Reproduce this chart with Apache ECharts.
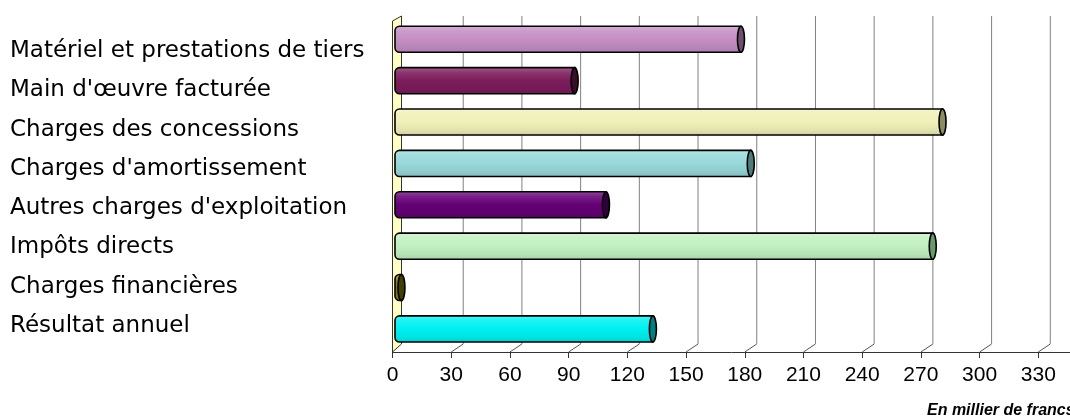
<!DOCTYPE html>
<html>
<head>
<meta charset="utf-8">
<title>Charges</title>
<script src="https://cdn.jsdelivr.net/npm/echarts@6/dist/echarts.min.js"></script>
<style>
html, body { margin: 0; padding: 0; background: #fff; }
#main { width: 1070px; height: 418px; }
</style>
</head>
<body>
<div id="main"></div>
<script>
var categories = ['Matériel et prestations de tiers', "Main d'œuvre facturée", 'Charges des concessions',
	"Charges d'amortissement", "Autres charges d'exploitation", 'Impôts directs',
	'Charges financières', 'Résultat annuel'];
var values = [175, 90, 278, 180, 106, 273, 1.5, 130];
var barColors = ['#C48EC4', '#7C1C5C', '#F0F0B8', '#98D8DA', '#640074', '#C2F0C2', '#808000', '#00F0F0'];
var capColors = ['#6E4E6E', '#3C0C2C', '#8C8C60', '#4E7C7C', '#30003A', '#6A9A6A', '#404000', '#008080'];
var axisMin = 0;
var axisMax = 360;
var axisStep = 30;
var tickValues = [0, 30, 60, 90, 120, 150, 180, 210, 240, 270, 300, 330, 360];
var unitText = 'En millier de francs';

// profondeur de l'effet 3D
var depthX = 12;
var depthY = 8;

function mix(hex, toWhite, t) {
	var r = parseInt(hex.substr(1, 2), 16);
	var g = parseInt(hex.substr(3, 2), 16);
	var b = parseInt(hex.substr(5, 2), 16);
	var tg = toWhite ? 255 : 0;
	r = Math.round(r + (tg - r) * t);
	g = Math.round(g + (tg - g) * t);
	b = Math.round(b + (tg - b) * t);
	return 'rgb(' + r + ',' + g + ',' + b + ')';
}

// cylindre horizontal
function renderBar(params, api) {
	var i = params.dataIndex;
	var cat = api.value(1);
	var p0 = api.coord([0, cat]);
	var p1 = api.coord([api.value(0), cat]);
	var h = api.size([0, 1])[1] * 0.63;
	var rx = 3.5;
	var c = barColors[i];
	var grad = new echarts.graphic.LinearGradient(0, 0, 0, 1, [
		{offset: 0, color: mix(c, true, 0.3)},
		{offset: 0.2, color: mix(c, true, 0.12)},
		{offset: 0.5, color: c},
		{offset: 0.8, color: mix(c, false, 0.06)},
		{offset: 1, color: mix(c, false, 0.14)}
	]);
	return {
		type: 'group',
		children: [{
			type: 'rect',
			shape: {x: p0[0] - rx, y: p0[1] - h / 2, width: Math.max(p1[0] - p0[0] + rx, 0), height: h, r: [rx + 1, 0, 0, rx + 1]},
			style: {fill: grad, stroke: '#000', lineWidth: 1.6}
		}, {
			type: 'ellipse',
			shape: {cx: p1[0], cy: p1[1], rx: rx, ry: h / 2},
			style: {fill: capColors[i], stroke: '#000', lineWidth: 1.6}
		}]
	};
}

// mur de gauche + lignes de fond
function renderFrame(params, api) {
	var v = api.value(0);
	var cs = params.coordSys;
	var yb = cs.y + cs.height;
	var x = api.coord([v, 0])[0];
	var children = [];
	if (v === axisMin) {
		children.push({
			type: 'polygon',
			shape: {points: [[x, yb], [x, cs.y + 5], [x + 9, cs.y], [x + 9, yb - depthY]]},
			style: {fill: '#FFFFC4', stroke: '#333', lineWidth: 1}
		});
	} else {
		children.push({
			type: 'line',
			shape: {x1: x, y1: yb, x2: x + depthX, y2: yb - depthY},
			style: {stroke: '#555', lineWidth: 1}
		});
		children.push({
			type: 'line',
			shape: {x1: x + depthX, y1: yb - depthY, x2: x + depthX, y2: cs.y},
			style: {stroke: '#808080', lineWidth: 1}
		});
	}
	return {type: 'group', children: children};
}

var myChart = echarts.init(document.getElementById('main'));

var barData = [];
for (var i = 0; i < values.length; i++) {
	barData.push([values[i], i]);
}
var frameData = [];
for (var j = 0; j < tickValues.length; j++) {
	frameData.push([tickValues[j], 0]);
}

option = {
	animation: false,
	backgroundColor: '#fff',
	grid: [
		// libellés
		{left: 392, right: -27, top: 31.5, bottom: 72.5, outerBoundsMode: 'none'},
		// axe avant
		{left: 392.5, right: -27, top: 16, bottom: 66, outerBoundsMode: 'none'},
		// plan des barres
		{left: 398.5, right: -33, top: 18.6, bottom: 68.4, outerBoundsMode: 'none'}
	],
	xAxis: [
		{gridIndex: 0, type: 'value', min: axisMin, max: axisMax, show: false},
		{
			gridIndex: 1, type: 'value', min: axisMin, max: axisMax, interval: axisStep,
			axisLine: {show: true, lineStyle: {color: '#333', width: 1}},
			axisTick: {show: true, length: 6, lineStyle: {color: '#333'}},
			splitLine: {show: false},
			axisLabel: {margin: 13, fontSize: 21, fontFamily: 'Liberation Sans', color: '#000'}
		},
		{gridIndex: 2, type: 'value', min: axisMin, max: axisMax, show: false}
	],
	yAxis: [
		{
			gridIndex: 0, type: 'category', data: categories, inverse: true,
			axisLine: {show: false}, axisTick: {show: false},
			axisLabel: {align: 'left', margin: 382, fontSize: 23, fontFamily: 'DejaVu Sans', color: '#000'}
		},
		{gridIndex: 1, type: 'category', data: categories, inverse: true, show: false},
		{gridIndex: 2, type: 'category', data: categories, inverse: true, show: false}
	],
	graphic: [{
		type: 'text',
		x: 927,
		y: 411,
		style: {
			text: unitText,
			fontFamily: 'Liberation Sans',
			fontSize: 16,
			fontStyle: 'italic',
			fontWeight: 'bold',
			fill: '#000',
			verticalAlign: 'middle'
		}
	}],
	series: [{
		type: 'custom',
		xAxisIndex: 1,
		yAxisIndex: 1,
		z: 1,
		renderItem: renderFrame,
		data: frameData
	}, {
		type: 'custom',
		xAxisIndex: 2,
		yAxisIndex: 2,
		z: 3,
		renderItem: renderBar,
		data: barData
	}]
};

myChart.setOption(option);
</script>
</body>
</html>
